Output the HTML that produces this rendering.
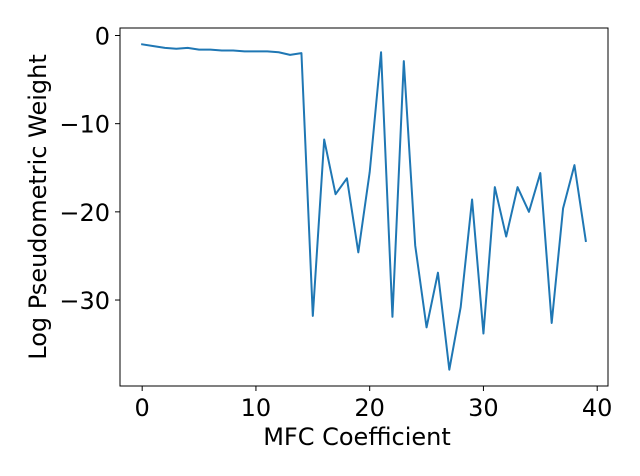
<!DOCTYPE html>
<html><head><meta charset="utf-8"><style>
body{margin:0;background:#fff;}
svg{display:block;font-family:"DejaVu Sans","Liberation Sans",sans-serif;}
</style></head><body>
<svg id="chart" width="640" height="476"></svg>
<script>
const coefficients = [0,1,2,3,4,5,6,7,8,9,10,11,12,13,14,15,16,17,18,19,20,21,22,23,24,25,26,27,28,29,30,31,32,33,34,35,36,37,38,39];
const weights = [-1.0,-1.2,-1.4,-1.5,-1.4,-1.6,-1.6,-1.7,-1.7,-1.8,-1.8,-1.8,-1.9,-2.2,-2.0,-31.8,-11.8,-18.0,-16.2,-24.6,-15.5,-1.9,-31.9,-2.9,-23.8,-33.1,-26.9,-37.9,-30.8,-18.6,-33.8,-17.2,-22.8,-17.2,-20.0,-15.6,-32.6,-19.6,-14.7,-23.3];
const xTicks = [0,10,20,30,40];
const yTicks = [0,-10,-20,-30];
const ns="http://www.w3.org/2000/svg";
const svg=document.getElementById('chart');
const L=120,R=608,T=28,B=386;
const xmin=-1.95,xmax=40.95,ymin=-39.75,ymax=0.85;
const sx=v=>L+(v-xmin)/(xmax-xmin)*(R-L);
const sy=v=>B-(v-ymin)/(ymax-ymin)*(B-T);
function el(tag,attrs){const e=document.createElementNS(ns,tag);for(const k in attrs)e.setAttribute(k,attrs[k]);svg.appendChild(e);return e;}
let d=coefficients.map((c,i)=>(i?'L':'M')+sx(c).toFixed(2)+' '+sy(weights[i]).toFixed(2)).join(' ');
const line=el('path',{d:d,fill:'none',stroke:'#1f77b4','stroke-width':2,'stroke-linejoin':'round','stroke-linecap':'square'});


const frame=el('rect',{x:L,y:T,width:R-L,height:B-T,fill:'none',stroke:'#000','stroke-width':1});


xTicks.forEach(t=>{
  const x=sx(t);
  const tk=el('line',{x1:x,x2:x,y1:B,y2:B+5,stroke:'#000','stroke-width':1});
  
  
  const tx=el('text',{x:x,y:B+30,'text-anchor':'middle','font-size':24,fill:'#000'});
  tx.textContent=t;
  
  
});
yTicks.forEach(t=>{
  const y=sy(t);
  const tk=el('line',{x1:L-5,x2:L,y1:y,y2:y,stroke:'#000','stroke-width':1});
  
  
  const tx=el('text',{x:L-10,y:y+9,'text-anchor':'end','font-size':24,fill:'#000'});
  tx.textContent=(t<0?'\u2212'+(-t):t);
  
  
});
const xt=el('text',{x:357,y:445,'text-anchor':'middle','font-size':24,fill:'#000'});
xt.textContent='MFC Coefficient';


const yt=el('text',{x:0,y:0,'text-anchor':'middle','font-size':24,fill:'#000',transform:'translate(46,207) rotate(-90)'});
yt.textContent='Log Pseudometric Weight';


</script>
</body></html>
